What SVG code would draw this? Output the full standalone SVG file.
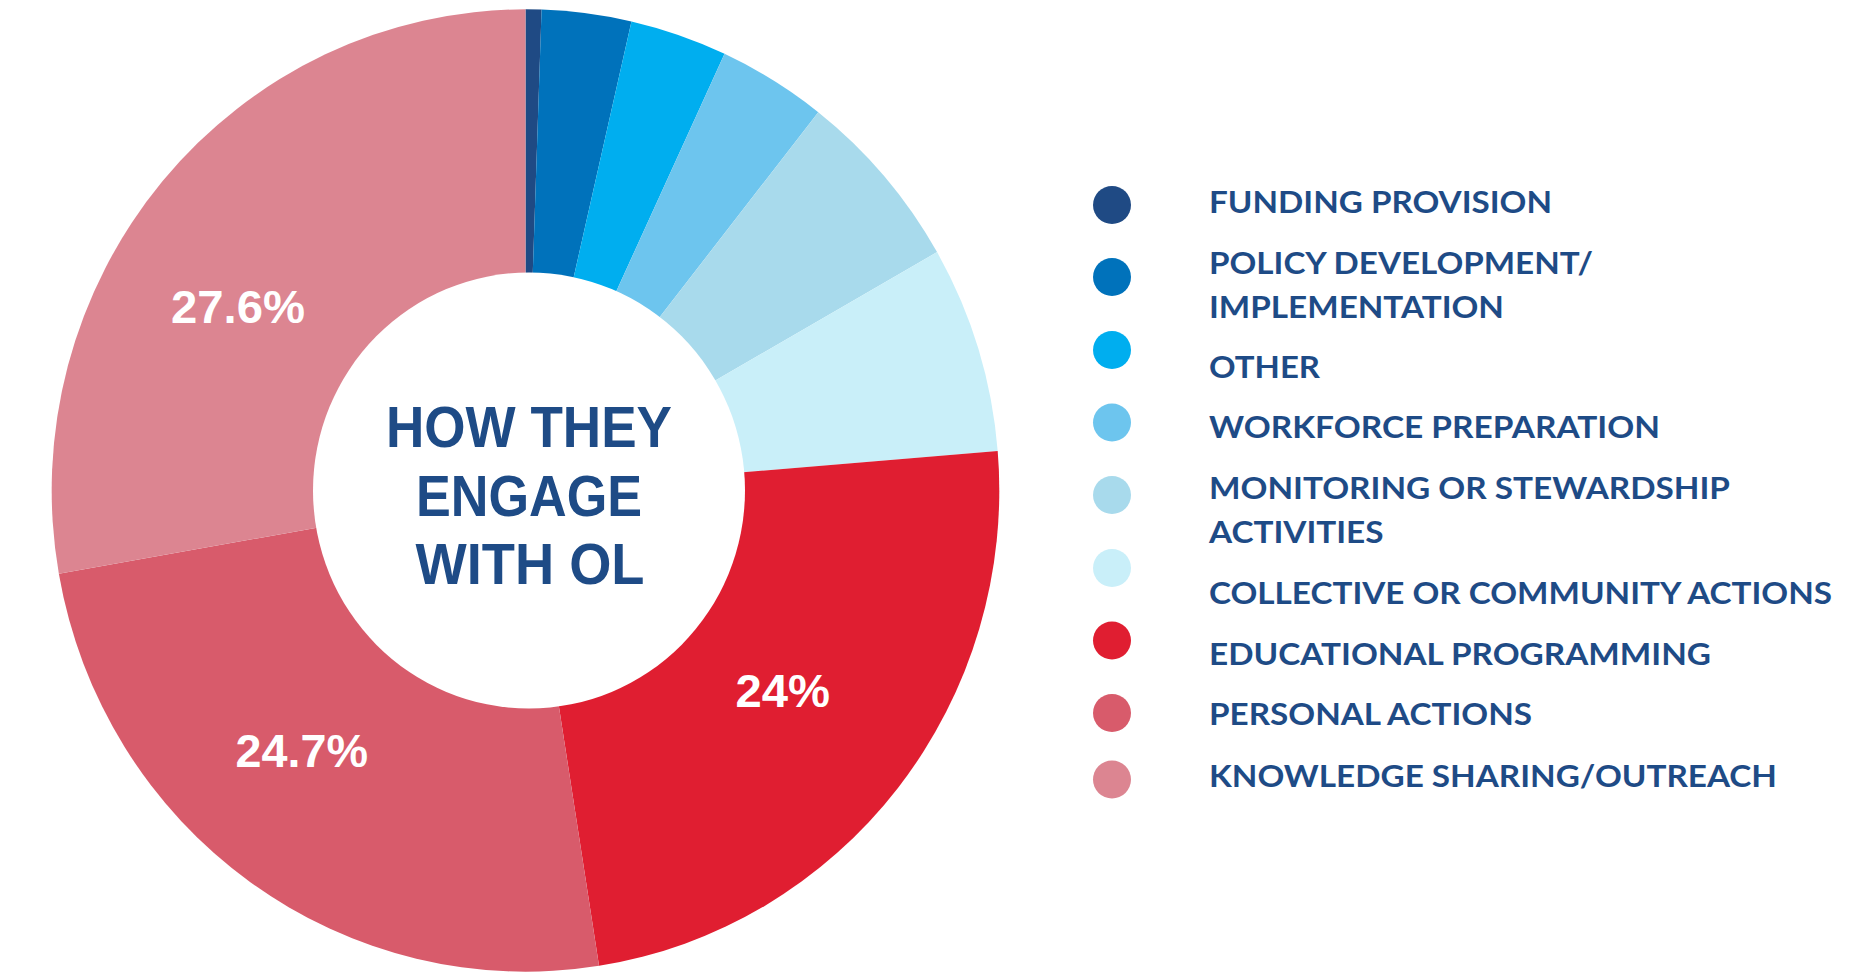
<svg xmlns="http://www.w3.org/2000/svg" width="1875" height="974" viewBox="0 0 1875 974">
<style>
.title{font-family:"Liberation Sans",Arial,sans-serif;font-weight:bold;font-size:58px;fill:#1e4b86;text-anchor:middle}
.pct{font-family:"Liberation Sans",Arial,sans-serif;font-weight:bold;font-size:46px;fill:#ffffff}
.leg{font-family:Lato,"Liberation Sans",sans-serif;font-weight:bold;font-size:31px;fill:#1e4b86}
</style>
<rect width="1875" height="974" fill="#ffffff"/>
<g id="donut">
<g id="slice-funding"><path d="M525.5,490.5 L525.5,9.3 A473.8,481.2 0 0 1 541.57,9.58 Z" fill="#1f4a84"/></g>
<g id="slice-policy"><path d="M525.5,490.5 L541.57,9.58 A473.8,481.2 0 0 1 631.47,21.49 Z" fill="#0072bb"/></g>
<g id="slice-other"><path d="M525.5,490.5 L631.47,21.49 A473.8,481.2 0 0 1 724.54,53.82 Z" fill="#00aeef"/></g>
<g id="slice-workforce"><path d="M525.5,490.5 L724.54,53.82 A473.8,481.2 0 0 1 818.29,112.17 Z" fill="#6dc5ee"/></g>
<g id="slice-monitoring"><path d="M525.5,490.5 L818.29,112.17 A473.8,481.2 0 0 1 937.06,252.09 Z" fill="#a8daec"/></g>
<g id="slice-collective"><path d="M525.5,490.5 L937.06,252.09 A473.8,481.2 0 0 1 997.69,450.94 Z" fill="#c9eff9"/></g>
<g id="slice-educational"><path d="M525.5,490.5 L997.69,450.94 A473.8,481.2 0 0 1 599.04,965.87 Z" fill="#e01e31"/></g>
<g id="slice-personal"><path d="M525.5,490.5 L599.04,965.87 A473.8,481.2 0 0 1 58.85,573.83 Z" fill="#d85b6b"/></g>
<g id="slice-knowledge"><path d="M525.5,490.5 L58.85,573.83 A473.8,481.2 0 0 1 525.5,9.3 Z" fill="#dc8591"/></g>
<ellipse id="hole" cx="529" cy="490.5" rx="216" ry="218" fill="#ffffff"/>
</g>
<g id="center-title">
<text class="title" x="529" y="447" textLength="286" lengthAdjust="spacingAndGlyphs">HOW THEY</text>
<text class="title" x="529" y="516" textLength="226" lengthAdjust="spacingAndGlyphs">ENGAGE</text>
<text class="title" x="530" y="584" textLength="229" lengthAdjust="spacingAndGlyphs">WITH OL</text>
</g>
<g id="labels">
<text class="pct" x="171" y="323" textLength="134" lengthAdjust="spacingAndGlyphs">27.6%</text>
<text class="pct" x="235.5" y="767" textLength="132.5" lengthAdjust="spacingAndGlyphs">24.7%</text>
<text class="pct" x="735.5" y="707" textLength="94.5" lengthAdjust="spacingAndGlyphs">24%</text>
</g>
<g id="legend">
<g id="leg-funding"><circle cx="1112" cy="205" r="19" fill="#1f4a84"/><text class="leg" x="1209" y="212.5" textLength="343" lengthAdjust="spacingAndGlyphs">FUNDING PROVISION</text></g>
<g id="leg-policy"><circle cx="1112" cy="277" r="19" fill="#0072bb"/><text class="leg" x="1209" y="274" textLength="384" lengthAdjust="spacingAndGlyphs">POLICY DEVELOPMENT/</text><text class="leg" x="1209" y="317.5" textLength="295" lengthAdjust="spacingAndGlyphs">IMPLEMENTATION</text></g>
<g id="leg-other"><circle cx="1112" cy="350" r="19" fill="#00aeef"/><text class="leg" x="1209" y="378.3" textLength="111" lengthAdjust="spacingAndGlyphs">OTHER</text></g>
<g id="leg-workforce"><circle cx="1112" cy="422.5" r="19" fill="#6dc5ee"/><text class="leg" x="1209" y="438.3" textLength="451" lengthAdjust="spacingAndGlyphs">WORKFORCE PREPARATION</text></g>
<g id="leg-monitoring"><circle cx="1112" cy="495" r="19" fill="#a8daec"/><text class="leg" x="1209" y="499.3" textLength="521" lengthAdjust="spacingAndGlyphs">MONITORING OR STEWARDSHIP</text><text class="leg" x="1209" y="542.7" textLength="174.5" lengthAdjust="spacingAndGlyphs">ACTIVITIES</text></g>
<g id="leg-collective"><circle cx="1112" cy="568" r="19" fill="#c9eff9"/><text class="leg" x="1209" y="604" textLength="623" lengthAdjust="spacingAndGlyphs">COLLECTIVE OR COMMUNITY ACTIONS</text></g>
<g id="leg-educational"><circle cx="1112" cy="640.5" r="19" fill="#e01e31"/><text class="leg" x="1209" y="665" textLength="502" lengthAdjust="spacingAndGlyphs">EDUCATIONAL PROGRAMMING</text></g>
<g id="leg-personal"><circle cx="1112" cy="713" r="19" fill="#d85b6b"/><text class="leg" x="1209" y="725" textLength="323" lengthAdjust="spacingAndGlyphs">PERSONAL ACTIONS</text></g>
<g id="leg-knowledge"><circle cx="1112" cy="779.5" r="19" fill="#dc8591"/><text class="leg" x="1209" y="786.7" textLength="568" lengthAdjust="spacingAndGlyphs">KNOWLEDGE SHARING/OUTREACH</text></g>
</g>
</svg>
